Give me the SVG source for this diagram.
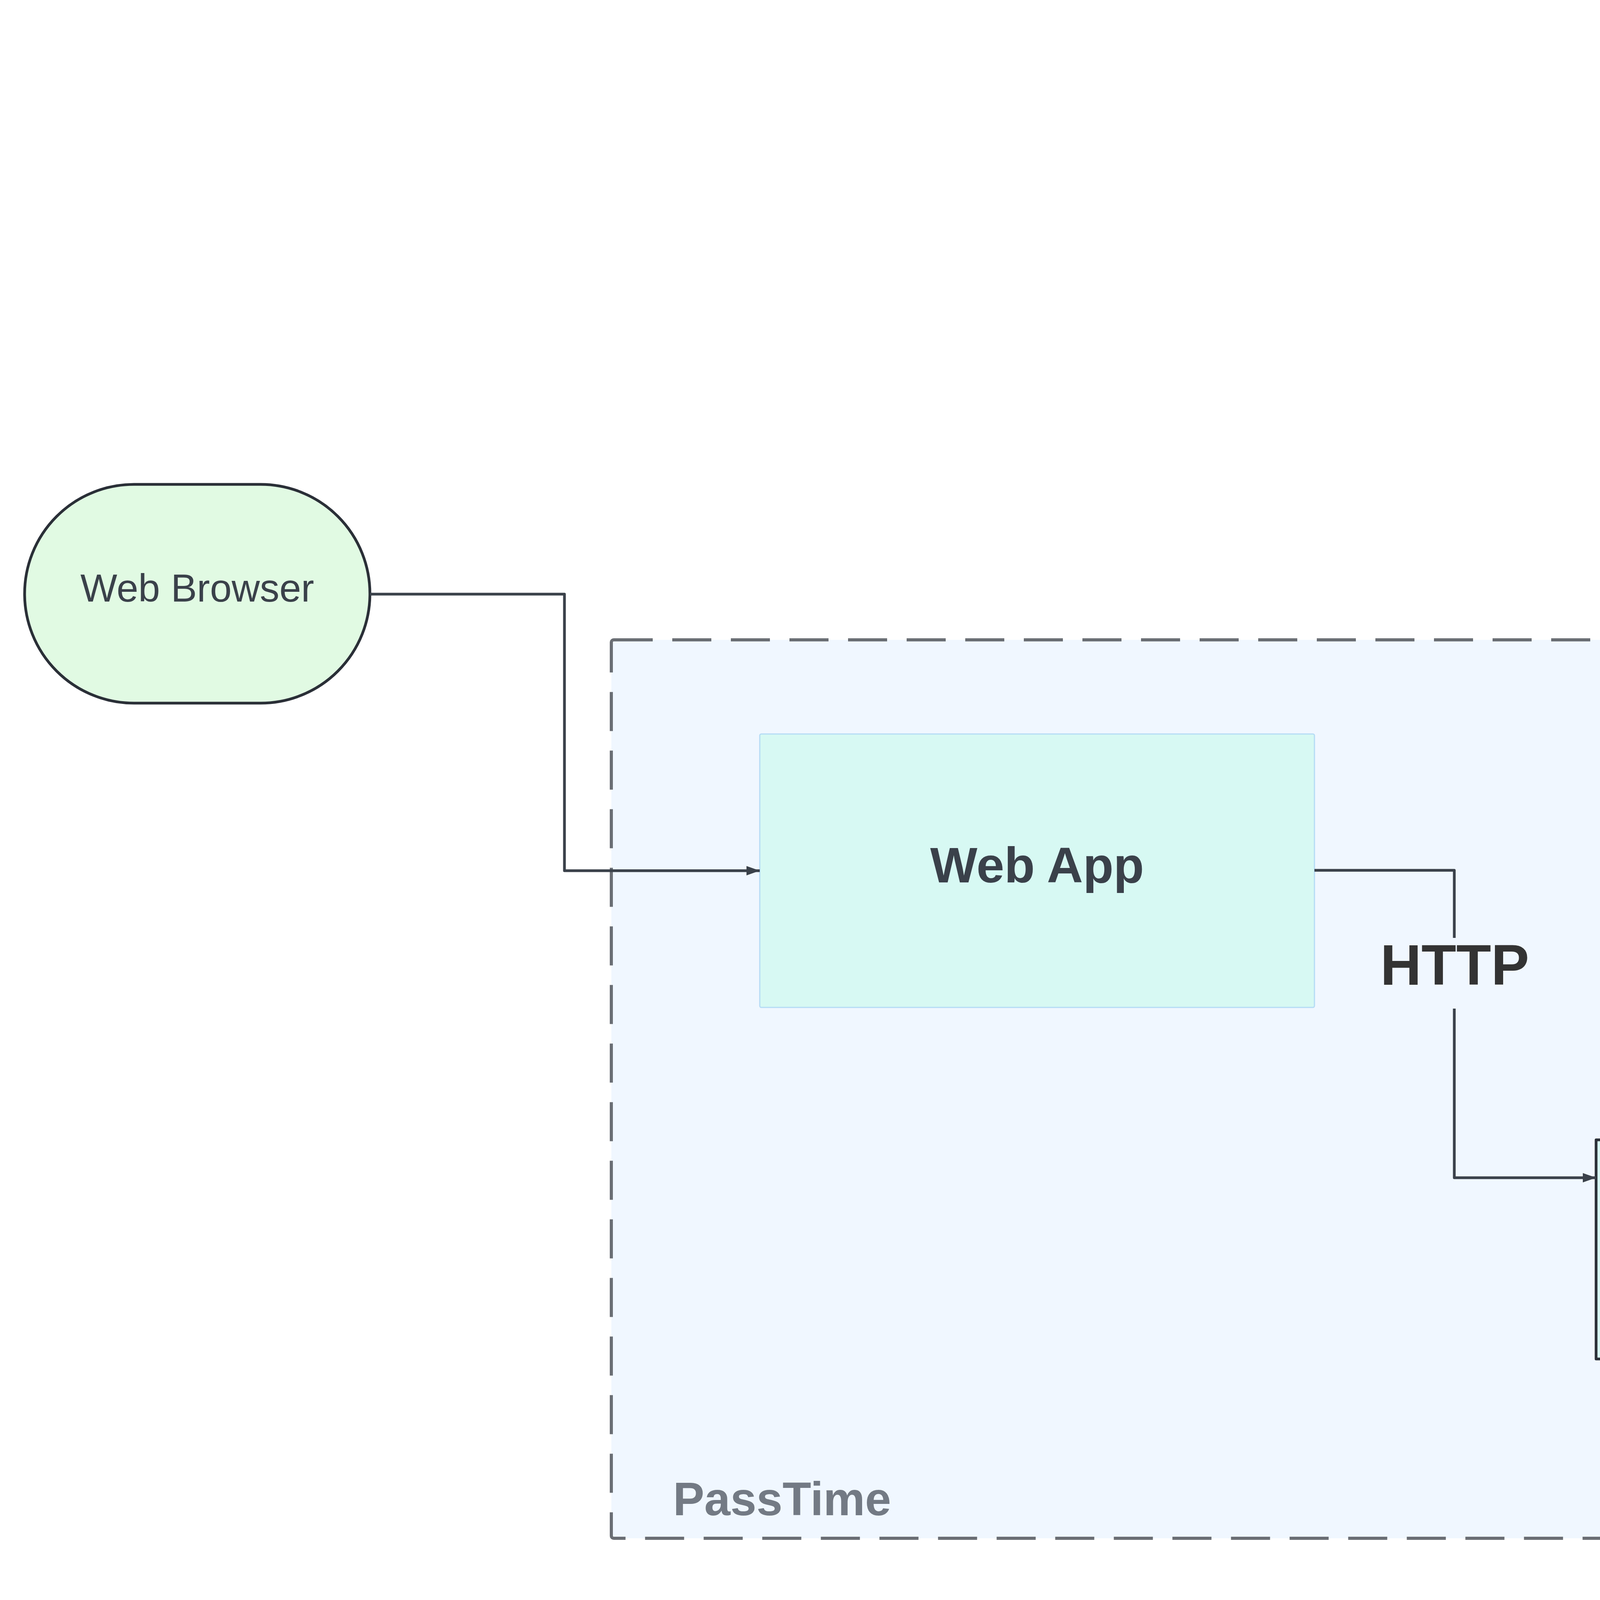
<svg xmlns="http://www.w3.org/2000/svg" width="6780" height="4224" viewBox="0 0 6780 4224">
<defs>
<style>
.lbl{font-family:"Liberation Sans",Arial,sans-serif;fill:#3a414a;text-anchor:middle}
.b{font-weight:bold}
.conn{fill:none;stroke:#3a414a;stroke-width:7;stroke-linejoin:round;marker-end:url(#arr)}
.node{stroke:#2a2f37;stroke-width:7;stroke-linejoin:round}
</style>
<marker id="arr" markerUnits="userSpaceOnUse" markerWidth="40" markerHeight="30" refX="34" refY="12" orient="auto">
<path d="M0,0 L34,12 L0,24 Z" fill="#3a414a"/>
</marker>
</defs>
<rect width="6780" height="4224" fill="#ffffff"/>
<g id="passtime">
<rect x="1565" y="1638" width="4799" height="2300" rx="6" fill="#f0f7ff" stroke="#6a6e74" stroke-width="8" stroke-dasharray="100 50"/>
<text class="lbl b" x="1723" y="3879" font-size="120" style="text-anchor:start;fill:#737a84">PassTime</text>
</g>
<g id="web-browser">
<rect class="node" x="63" y="1240" width="884" height="560" rx="280" ry="280" fill="#e1fae3"/>
<text class="lbl" x="505" y="1540" font-size="100">Web Browser</text>
</g>
<g id="web-app">
<rect x="1945" y="1879" width="1420" height="700" rx="4" fill="#d7f9f3" stroke="#b5dcf5" stroke-width="3"/>
<text class="lbl b" x="2655" y="2259" font-size="128">Web App</text>
</g>
<g id="nasa-exoplanet-archive">
<path d="M5555,454 C5555,290 5700,192 5831,192 C5900,192 5960,210 5991,240 C6030,170 6100,149 6161,149 C6270,149 6370,210 6370,292 C6520,255 6663,380 6663,539 C6663,600 6645,660 6623,699 C6655,760 6671,810 6671,866 C6671,1000 6590,1079 6478,1079 C6440,1079 6400,1070 6370,1057 C6330,1120 6260,1155 6179,1155 C6100,1155 6025,1120 5991,1057 C5950,1088 5900,1105 5844,1105 C5720,1105 5614,1010 5614,852 C5510,850 5425,760 5425,651 C5425,560 5480,480 5555,454 Z" fill="#c3f7c8" stroke="#9ee6a8" stroke-width="3"/>
<text class="lbl b" x="6073" y="592" font-size="124">NASA ExoPlanet</text>
<text class="lbl b" x="6073" y="745" font-size="124">Archive</text>
</g>
<g id="koi-csv">
<path class="node" d="M4925,1799 H5884 V2420 C5780,2352 5670,2315 5575,2315 C5460,2315 5360,2418 5240,2418 C5130,2418 5020,2375 4925,2315 Z" fill="#6db0fe"/>
<text class="lbl" x="5409" y="2084" font-size="120">KOI.csv</text>
</g>
<g id="node-api">
<rect class="node" x="4086" y="2918" width="1339" height="561" fill="#d7f9f3"/>
<text class="lbl b" x="4756" y="3221" font-size="122">Node Api</text>
</g>
<g id="connectors">
<path class="conn" d="M947,1521 H1445 V2229 H1945"/>
<path class="conn" d="M3365,2228 H3723 V3015 H4086"/>
<rect x="3520" y="2401" width="406" height="181" fill="#f0f7ff"/>
<text class="lbl b" x="3724" y="2521" font-size="146" style="fill:#333333">HTTP</text>
<path class="conn" d="M6179,1156 V1474 H5405 V1799"/>
<path class="conn" d="M5405,2372 V2640 H4757 V2918"/>
</g>
</svg>
